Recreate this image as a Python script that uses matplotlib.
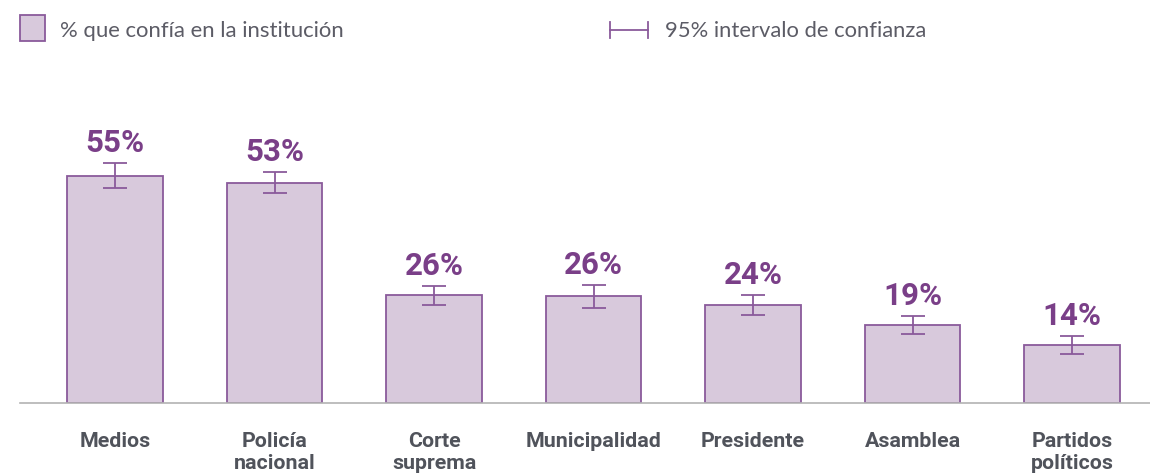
import matplotlib.pyplot as plt
from matplotlib.patches import Rectangle
from matplotlib.lines import Line2D

# data
categories = ["Medios", "Policía\nnacional", "Corte\nsuprema", "Municipalidad",
              "Presidente", "Asamblea", "Partidos\npolíticos"]
values = [55, 53.3, 26.1, 25.9, 23.7, 18.9, 14.0]
ci_low = [52.1, 50.8, 23.7, 23.0, 21.3, 16.7, 11.9]
ci_high = [58.1, 55.9, 28.3, 28.6, 26.1, 21.1, 16.2]
labels = ["55%", "53%", "26%", "26%", "24%", "19%", "14%"]

fill = "#d8c9dc"
edge = "#8a5a9b"
purple = "#7a3f88"
gray_txt = "#50535b"
legend_txt = "#5c5c66"

fig = plt.figure(figsize=(11.5, 4.73), dpi=100)
ax = fig.add_axes([20 / 1150, 1 - 403 / 473, 1130 / 1150, 343 / 473])

x = range(len(categories))
ax.bar(x, values, width=0.6, color=fill, edgecolor=edge, linewidth=1.3)

err = [[v - lo for v, lo in zip(values, ci_low)],
       [hi - v for v, hi in zip(values, ci_high)]]
ax.errorbar(x, values, yerr=err, fmt="none", ecolor=edge, elinewidth=1.3,
            capsize=8.3, capthick=1.3)

for i, (hi, lab) in enumerate(zip(ci_high, labels)):
    ax.annotate(lab, (i, hi), xytext=(0, 8), textcoords="offset points",
                ha="center", va="baseline", fontsize=22.5, fontweight="bold",
                color=purple, family="Roboto")

ax.set_xlim(-0.596, 6.489)
ax.set_ylim(0, 83)
ax.set_yticks([])
ax.set_xticks(list(x))
ax.set_xticklabels(categories, fontsize=15.4, fontweight="bold", color=gray_txt,
                   family="Roboto", linespacing=1.22)
ax.tick_params(axis="x", length=0, pad=21)
for s in ["top", "right", "left"]:
    ax.spines[s].set_visible(False)
ax.spines["bottom"].set_color("#b3b3b3")
ax.spines["bottom"].set_linewidth(1.2)

# legend drawn by hand at the top
W, H = 1150, 473
fig.add_artist(Rectangle((20 / W, 1 - 41 / H), 25 / W, 26 / H,
                         transform=fig.transFigure, facecolor=fill,
                         edgecolor=edge, linewidth=1.3))
fig.text(60 / W, 1 - 31 / H, "% que confía en la institución", fontsize=15.9,
         color=legend_txt, va="center", ha="left", family="Lato")

y0 = 1 - 30 / H
fig.add_artist(Line2D([610 / W, 648 / W], [y0, y0], transform=fig.transFigure,
                      color=edge, linewidth=1.3))
for xx in (610, 648):
    fig.add_artist(Line2D([xx / W, xx / W], [y0 - 8 / H, y0 + 8 / H],
                          transform=fig.transFigure, color=edge, linewidth=1.3))
fig.text(665 / W, 1 - 31 / H, "95% intervalo de confianza", fontsize=15.8,
         color=legend_txt, va="center", ha="left", family="Lato")

fig.savefig("out.png", dpi=100)
